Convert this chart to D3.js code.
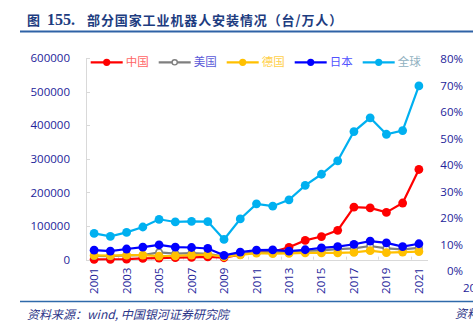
<!doctype html>
<html lang="zh">
<head>
  <meta charset="utf-8">
  <title>部分国家工业机器人安装情况</title>
  <style>
body { margin: 0; background: #fff; }
svg { display: block; }
.axis text { font: 11.5px "Open Sans", "Noto Sans CJK SC", sans-serif; fill: #23239a; }
.axis path, .axis line { fill: none; stroke: #d9d9d9; shape-rendering: crispEdges; }
.legend text { font: 11.5px "Noto Sans CJK SC", sans-serif; }
  </style>
</head>
<body>
  <script src="https://d3js.org/d3.v7.min.js"></script>
  <script>
// 单位：台
var years = d3.range(2001, 2022);
var china   = [700, 1000, 1400, 3500, 4500, 5800, 6600, 7900, 5500, 15000, 22600, 23000, 36600, 57100, 68600, 87000, 156000, 154000, 140500, 168400, 268200];
var usa     = [10800, 10000, 12700, 13400, 21500, 17600, 19100, 17200, 8700, 16100, 20600, 22400, 23700, 26200, 27500, 31400, 33200, 40400, 33300, 30600, 35000];
var germany = [12500, 11900, 13100, 13400, 10500, 11400, 13400, 15100, 8500, 14100, 19500, 17500, 18300, 20100, 19900, 20000, 21400, 26700, 20500, 22300, 23800];
var japan   = [28000, 25400, 31500, 37000, 44000, 37000, 36000, 33100, 12800, 22000, 28000, 28700, 25100, 29300, 35000, 38600, 45600, 55200, 49900, 38700, 47200];
var world   = [78000, 69000, 81000, 97000, 120000, 112000, 114000, 113000, 60000, 121000, 166000, 159000, 178000, 221000, 254000, 294000, 381000, 422000, 373000, 384000, 517000];

var leftTicks = [0, 100000, 200000, 300000, 400000, 500000, 600000];
var rightTicks = [0, 0.1, 0.2, 0.3, 0.4, 0.5, 0.6, 0.7, 0.8];
var yearLabels = years.filter(function(d) { return d % 2 === 1; });

var series = [
  {name: "中国", values: china,   color: "#ff0000", text: "#ff6666", hollow: false},
  {name: "美国", values: usa,     color: "#7f7f7f", text: "#5a5ad8", hollow: true},
  {name: "德国", values: germany, color: "#ffc000", text: "#ffd04a", hollow: false},
  {name: "日本", values: japan,   color: "#0000ff", text: "#5252ff", hollow: false},
  {name: "全球", values: world,   color: "#00b0f0", text: "#8fb0c0", hollow: false}
];

var width = 473, height = 332;

var svg = d3.select("body").append("svg")
    .attr("width", width)
    .attr("height", height);

// title
var title = svg.append("text")
    .attr("x", 27)
    .attr("y", 25)
    .attr("fill", "#1d3c80")
    .style("font-weight", "bold");
title.append("tspan").style("font", "bold 13px 'Noto Sans CJK SC'").text("图");
title.append("tspan").attr("x", 47).style("font", "bold 16px 'Liberation Serif'").text("155.");
title.append("tspan").attr("x", 87).style("font", "bold 13px 'Noto Sans CJK SC'").style("letter-spacing", "0.9px").text("部分国家工业机器人安装情况（台/万人）");

svg.append("line")
    .attr("x1", 20).attr("x2", width)
    .attr("y1", 31.5).attr("y2", 31.5)
    .attr("stroke", "#2f62a6")
    .attr("stroke-width", 2);

// scales
var x = d3.scaleBand()
    .domain(years)
    .range([86, 427])
    .padding(0);
var y = d3.scaleLinear()
    .domain([0, 600000])
    .range([259.6, 58]);
var y2 = d3.scaleLinear()
    .domain([0, 0.8])
    .range([271, 59]);

function cx(i) { return x(years[i]) + x.bandwidth() / 2; }

// left axis, ticks inside
svg.append("g")
    .attr("class", "axis")
    .attr("transform", "translate(86,0)")
    .call(d3.axisLeft(y).tickValues(leftTicks).tickSizeInner(-4).tickSizeOuter(0).tickPadding(16).tickFormat(d3.format("d")));

// right axis, labels only
var ra = svg.append("g")
    .attr("class", "axis")
    .attr("transform", "translate(463,0)")
    .call(d3.axisRight(y2).tickValues(rightTicks).tickSize(0).tickPadding(0).tickFormat(d3.format(".0%")));
ra.select(".domain").remove();
ra.selectAll("text").attr("text-anchor", "end").attr("x", 0);

// bottom axis
var xa = svg.append("g")
    .attr("class", "axis")
    .attr("transform", "translate(0,259.6)")
    .call(d3.axisBottom(x).tickValues(yearLabels).tickSize(0).tickSizeOuter(0));
xa.selectAll("text")
    .attr("transform", "rotate(-90)")
    .attr("text-anchor", "end")
    .attr("x", -8)
    .attr("y", 0)
    .attr("dy", "0.35em");

// small upward ticks between categories
svg.append("g")
    .selectAll("line")
    .data(years.filter(function(d, i) { return i % 2 === 0; }))
    .enter().append("line")
    .attr("x1", function(d) { return Math.round(x(d)) + 0.5; })
    .attr("x2", function(d) { return Math.round(x(d)) + 0.5; })
    .attr("y1", 256.6)
    .attr("y2", 259.6)
    .attr("stroke", "#d9d9d9");

// lines and markers
var line = d3.line()
    .x(function(d, i) { return cx(i); })
    .y(function(d) { return y(d); });

series.forEach(function(s) {
  var g = svg.append("g");
  g.append("path")
      .datum(s.values)
      .attr("fill", "none")
      .attr("stroke", s.color)
      .attr("stroke-width", 2.2)
      .attr("d", line);
  g.selectAll("circle")
      .data(s.values)
      .enter().append("circle")
      .attr("cx", function(d, i) { return cx(i); })
      .attr("cy", function(d) { return y(d); })
      .attr("r", s.hollow ? 3.2 : 4.4)
      .attr("fill", s.hollow ? "#fff" : s.color)
      .attr("stroke", s.color)
      .attr("stroke-width", s.hollow ? 1.5 : 0);
});

// legend
var legend = svg.append("g").attr("class", "legend");
series.forEach(function(s, i) {
  var lx = 90.7 + 68 * i, ly = 62.3;
  var item = legend.append("g");
  item.append("line")
      .attr("x1", lx).attr("x2", lx + 32)
      .attr("y1", ly).attr("y2", ly)
      .attr("stroke", s.color)
      .attr("stroke-width", 2.2);
  item.append("circle")
      .attr("cx", lx + 16).attr("cy", ly)
      .attr("r", s.hollow ? 2.6 : 3.6)
      .attr("fill", s.hollow ? "#fff" : s.color)
      .attr("stroke", s.color)
      .attr("stroke-width", s.hollow ? 1.4 : 0);
  item.append("text")
      .attr("x", lx + 35)
      .attr("y", ly + 4)
      .attr("fill", s.text)
      .text(s.name);
});

// footer
svg.append("line")
    .attr("x1", 20).attr("x2", width)
    .attr("y1", 301.5).attr("y2", 301.5)
    .attr("stroke", "#2f6aaa")
    .attr("stroke-width", 1.4);

svg.append("text")
    .attr("x", 27)
    .attr("y", 319)
    .attr("fill", "#2c3588")
    .style("font", "italic 12px 'Noto Sans CJK SC'")
    .text("资料来源：wind, 中国银河证券研究院");

// edge of the next chart
svg.append("text")
    .attr("x", 463).attr("y", 292)
    .attr("fill", "#23239a")
    .style("font", "11.5px 'Open Sans'")
    .text("20");
svg.append("text")
    .attr("x", 455).attr("y", 318)
    .attr("fill", "#2c3588")
    .style("font", "italic 12px 'Noto Sans CJK SC'")
    .text("资料");
  </script>
</body>
</html>
